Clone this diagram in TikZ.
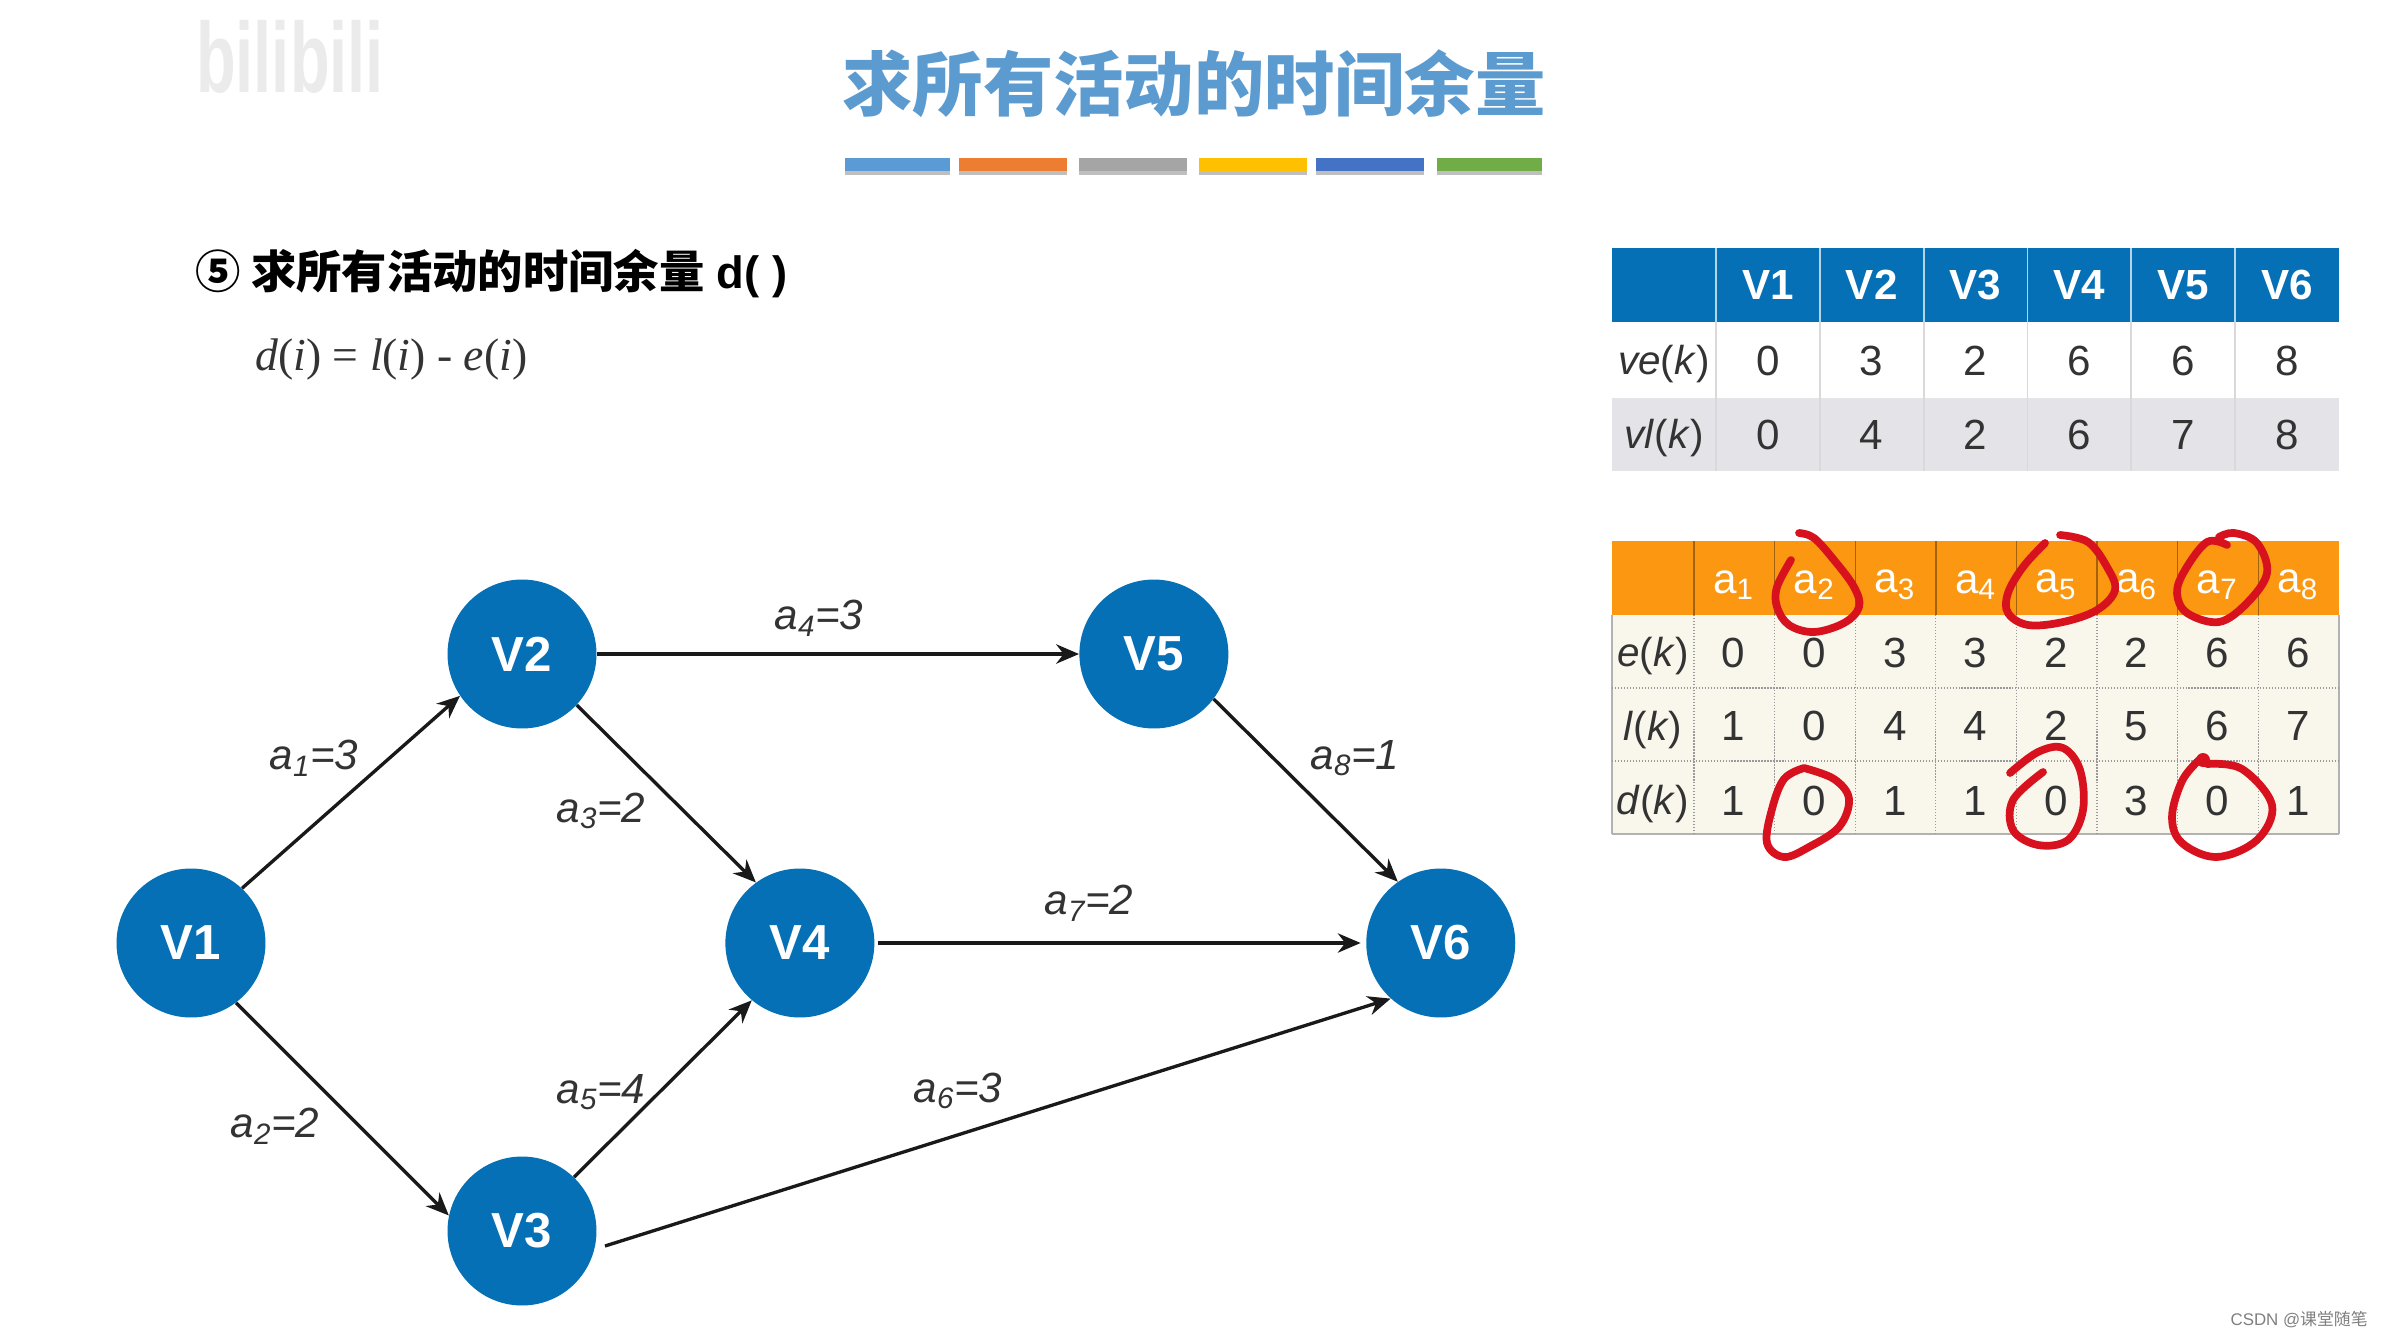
\documentclass[tikz,border=0pt]{standalone}
\usepackage{fontspec}
\setmainfont{Liberation Sans}
\newfontfamily\cjk{Noto Sans CJK SC}
\newfontfamily\timesit[ItalicFont={Liberation Serif Italic}]{Liberation Serif}
\usetikzlibrary{arrows.meta}
\definecolor{nodeblue}{HTML}{0570B5}
\definecolor{titleblue}{HTML}{5B9BD0}
\definecolor{headorange}{HTML}{FB9711}
\definecolor{cellcream}{HTML}{F9F6EC}
\definecolor{rowgray}{HTML}{E4E4E8}
\definecolor{inkred}{HTML}{D8111E}
\definecolor{darkink}{HTML}{333333}
\newcommand{\edgelab}[2]{\textit{a\textsubscript{#1}=#2}}
\begin{document}
\begin{tikzpicture}
[x=0.02cm, y=-0.02cm, node distance=12.18cm, font=\fontsize{24}{28}\selectfont]
\tikzstyle{vertex}=[circle, fill=nodeblue, text=white, inner sep=0mm, minimum size=2.98cm, font=\fontsize{28}{32}\selectfont\bfseries]
\tikzstyle{edge}=[line width=1.9pt, -{Stealth[length=13pt,width=11pt]}, color=black!90]
\tikzstyle{edgelabel}=[font=\fontsize{24}{28}\selectfont, text=darkink, inner sep=0mm]
\tikzstyle{tabtext}=[text=darkink, inner sep=0mm]
\tikzstyle{rowlabel}=[tabtext, font=\fontsize{23}{27}\selectfont]
\tikzstyle{headtext}=[text=white, inner sep=0mm, font=\fontsize{24}{28}\selectfont\bfseries]
\tikzstyle{ink}=[inkred, line width=4.4pt, line cap=round, line join=round]
\useasboundingbox (0,0) rectangle (2382,1338);
\fill[white] (0,0) rectangle (2382,1338);

% watermark
\node[font=\fontsize{42}{46}\selectfont\bfseries, text=black!8, inner sep=0mm, xscale=.88, yscale=1.35] (mark) at (290,57) {bilibili};

% title and colour bars
\node[font=\cjk\fontsize{40}{46}\selectfont\bfseries, text=titleblue, inner sep=0mm] (title) at (1194,84) {求所有活动的时间余量};
\foreach \xa/\xb/\col in {845/950/5B9BD5, 959/1067/ED7D31, 1079/1187/A5A5A5, 1199/1307/FFC000, 1316/1424/4472C4, 1437/1542/70AD47}{
	\definecolor{barcol}{HTML}{\col}
	\fill[black!25] (\xa,164) rectangle (\xb,175);
	\fill[barcol] (\xa,158) rectangle (\xb,171);
}

% step text
\node[anchor=west, inner sep=0mm, font=\fontsize{25.8}{30}\selectfont\bfseries] (step5) at (195,274) {{\cjk ⑤ 求所有活动的时间余量} d( )};
\node[anchor=west, inner sep=0mm, font=\timesit\fontsize{26}{30}\selectfont, text=darkink] (formula) at (255,360) {\textit{d}(\textit{i}) = \textit{l}(\textit{i}) - \textit{e}(\textit{i})};

% graph
\node[vertex]	(V1)	at (191,943)	{V1};
\node[vertex]	(V4)	[right of=V1]	{V4};
\node[vertex]	(V6)	[right of=V4, node distance=12.82cm]	{V6};
\node[vertex]	(V2)	at (522,654)	{V2};
\node[vertex]	(V3)	at (522,1231)	{V3};
\node[vertex]	(V5)	[right of=V2, node distance=12.64cm]	{V5};
\coordinate (V3out) at (605,1246);

\draw[edge]	(V1.47)--(V2.214);
\draw[edge]	(V1.-53)--(V3.168);
\draw[edge]	(V2.-43)--(V4.126);
\draw[edge]	(V2)--(V5);
\draw[edge]	(V3.46)--(V4.230);
\draw[edge]	(V3out)--(V6.228);
\draw[edge, shorten <=2pt, shorten >=3pt]	(V4)--(V6);
\draw[edge]	(V5.-37)--(V6.125);

\node[edgelabel]	(a1)	at (314,758)	{\edgelab{1}{3}};
\node[edgelabel]	(a2)	at (275,1126)	{\edgelab{2}{2}};
\node[edgelabel]	(a3)	at (601,811)	{\edgelab{3}{2}};
\node[edgelabel]	(a4)	at (819,618)	{\edgelab{4}{3}};
\node[edgelabel]	(a5)	at (601,1092)	{\edgelab{5}{4}};
\node[edgelabel]	(a6)	at (958,1091)	{\edgelab{6}{3}};
\node[edgelabel]	(a7)	at (1089,903)	{\edgelab{7}{2}};
\node[edgelabel]	(a8)	at (1355,758)	{\edgelab{8}{1}};

% upper table
\fill[nodeblue] (1612,248) rectangle (2339,322);
\fill[rowgray] (1612,398) rectangle (2339,471);
\foreach \i in {0,...,5}{
	\draw[black!15, line width=1pt] ({1716+103.83*\i},322) -- ({1716+103.83*\i},471);
	\draw[white!70!nodeblue, line width=1pt] ({1716+103.83*\i},248) -- ({1716+103.83*\i},322);
}
\foreach \i/\ve/\vl in {1/0/0, 2/3/4, 3/2/2, 4/6/6, 5/6/7, 6/8/8}{
	\node[headtext]	(hv\i)	at ({1664+103.83*\i},285)	{V\i};
	\node[tabtext]	(ve\i)	at ({1664+103.83*\i},361)	{\ve};
	\node[tabtext]	(vl\i)	at ({1664+103.83*\i},435)	{\vl};
}
\node[rowlabel]	(velab)	at (1664,364)	{\textit{ve}(\textit{k})};
\node[rowlabel]	(vllab)	at (1664,438)	{\textit{vl}(\textit{k})};

% lower table
\fill[cellcream] (1612,615) rectangle (2339,834);
\fill[headorange] (1612,541) rectangle (2339,615);
\draw[black!30, line width=1pt] (1612,834) -- (2339,834) (1612,615) -- (1612,834) (2339,615) -- (2339,834);
\foreach \i in {0,...,7}{
	\draw[black!40, line width=.7pt, densely dotted] ({1694+80.6*\i},615) -- ({1694+80.6*\i},834);
	\draw[black!35!headorange, line width=.8pt] ({1694+80.6*\i},541) -- ({1694+80.6*\i},615);
}
\foreach \y in {688,761}{
	\draw[black!40, line width=.7pt, densely dotted] (1612,\y) -- (2339,\y);
}
\foreach \i/\e/\l/\d in {1/0/1/1, 2/0/0/0, 3/3/4/1, 4/3/4/1, 5/2/2/0, 6/2/5/3, 7/6/6/0, 8/6/7/1}{
	\node[headtext, font=\fontsize{24}{28}\selectfont]	(ha\i)	at ({1653+80.6*\i},585)	{a\textsubscript{\i}};
	\node[tabtext]	(e\i)	at ({1653+80.6*\i},653)	{\e};
	\node[tabtext]	(l\i)	at ({1653+80.6*\i},726)	{\l};
	\node[tabtext]	(d\i)	at ({1653+80.6*\i},801)	{\d};
}
\node[rowlabel]	(elab)	at (1653,656)	{\textit{e}(\textit{k})};
\node[rowlabel]	(llab)	at (1653,730)	{\textit{l}(\textit{k})};
\node[rowlabel]	(dlab)	at (1653,804)	{\textit{d}(\textit{k})};

% red pen marks
\draw[ink] plot[smooth, tension=.6] coordinates {(1799,533) (1814,538) (1834,560) (1854,587) (1859,607) (1844,623) (1814,632) (1789,625) (1777,607) (1777,587) (1791,560)};
\draw[ink] plot[smooth, tension=.6] coordinates {(2060,535) (2088,542) (2107,567) (2115,590) (2097,610) (2063,622) (2028,625) (2008,613) (2008,593) (2023,567) (2045,543)};
\draw[ink] plot[smooth, tension=.6] coordinates {(2227,545) (2207,542) (2185,570) (2177,593) (2187,613) (2219,622) (2247,603) (2267,573) (2257,543) (2234,533) (2219,537)};
\draw[ink] plot[smooth, tension=.6] coordinates {(1804,768) (1834,779) (1849,799) (1839,827) (1809,847) (1784,857) (1767,843) (1772,809) (1784,779) (1804,768)};
\draw[ink] plot[smooth, tension=.6] coordinates {(2010,773) (2038,752) (2063,748) (2080,770) (2083,810) (2068,840) (2038,845) (2013,830) (2013,800) (2043,772)};
\draw[ink] plot[smooth, tension=.6] coordinates {(2207,764) (2242,769) (2272,805) (2257,840) (2217,857) (2182,843) (2172,817) (2182,781) (2199,760)};
\fill[inkred] (2203,760) circle (7);

\node[anchor=east, inner sep=0mm, text=black!50, font=\fontsize{9.6}{12}\selectfont] (csdn) at (2368,1320) {CSDN @{\cjk 课堂随笔}};
\end{tikzpicture}
\end{document}
